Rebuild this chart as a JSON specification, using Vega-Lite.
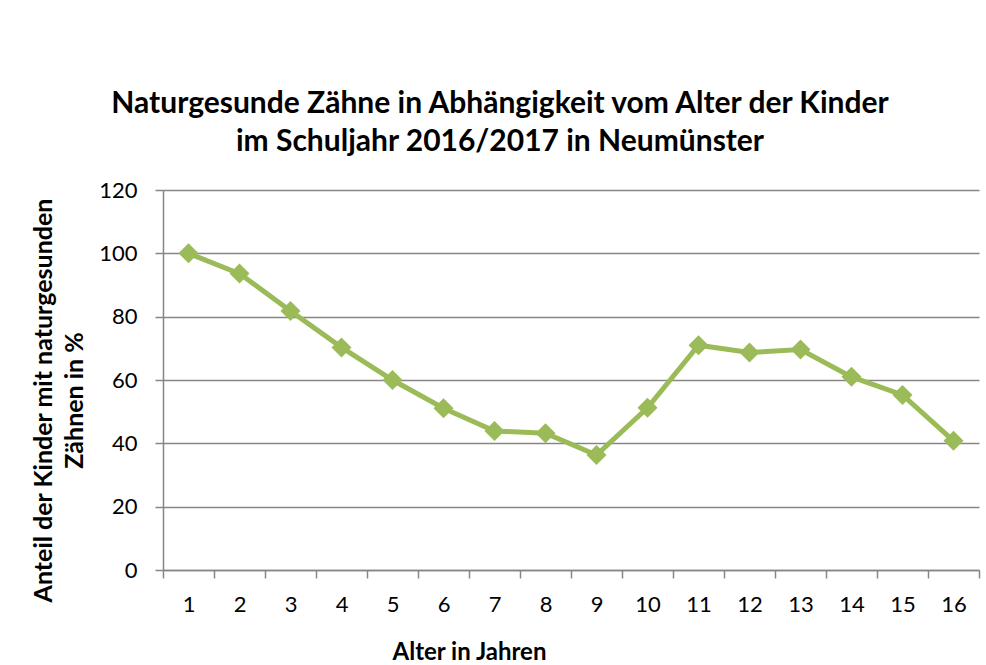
{
  "$schema": "https://vega.github.io/schema/vega-lite/v6.json",
  "width": 816,
  "height": 380,
  "autosize": {"type": "none"},
  "padding": {"left": 163, "top": 190, "right": 7, "bottom": 95},
  "background": "white",
  "title": {
    "text": ["Naturgesunde Zähne in Abhängigkeit vom Alter der Kinder", "im Schuljahr 2016/2017 in Neumünster"],
    "font": "Lato",
    "fontSize": 30,
    "fontWeight": "bold",
    "color": "black",
    "anchor": "middle",
    "dx": -71,
    "lineHeight": 38,
    "offset": 22
  },
  "data": {
    "values": [
      {"alter": 1, "anteil": 100},
      {"alter": 2, "anteil": 93.6},
      {"alter": 3, "anteil": 81.8},
      {"alter": 4, "anteil": 70.3},
      {"alter": 5, "anteil": 60},
      {"alter": 6, "anteil": 51.1},
      {"alter": 7, "anteil": 43.9},
      {"alter": 8, "anteil": 43.2},
      {"alter": 9, "anteil": 36.3},
      {"alter": 10, "anteil": 51.2},
      {"alter": 11, "anteil": 71},
      {"alter": 12, "anteil": 68.7},
      {"alter": 13, "anteil": 69.6},
      {"alter": 14, "anteil": 61},
      {"alter": 15, "anteil": 55.3},
      {"alter": 16, "anteil": 40.8}
    ]
  },
  "config": {"view": {"stroke": null}, "font": "Lato"},
  "encoding": {
    "x": {
      "field": "alter",
      "type": "ordinal",
      "sort": null,
      "scale": {"type": "band", "paddingInner": 0, "paddingOuter": 0},
      "axis": {
        "title": "Alter in Jahren",
        "titleFont": "Lato",
        "titleFontSize": 24,
        "titleFontWeight": "bold",
        "titleColor": "black",
        "titleX": 306,
        "titleY": 89,
        "titleAlign": "center",
        "titleBaseline": "alphabetic",
        "labelAngle": 0,
        "labelFont": "Lato",
        "labelFontSize": 22,
        "labelColor": "black",
        "labelPadding": 16,
        "tickBand": "extent",
        "tickSize": 8,
        "tickColor": "#868686",
        "tickWidth": 1.5,
        "domainColor": "#868686",
        "domainWidth": 1.5,
        "grid": false
      }
    },
    "y": {
      "field": "anteil",
      "type": "quantitative",
      "scale": {"domain": [0, 120], "nice": false},
      "axis": {
        "title": ["Anteil der Kinder mit naturgesunden", "Zähnen in %"],
        "titleFont": "Lato",
        "titleFontSize": 25,
        "titleFontWeight": "bold",
        "titleColor": "black",
        "titleX": -120,
        "titleY": 210,
        "titleAngle": -90,
        "titleAlign": "center",
        "titleBaseline": "middle",
        "titleLineHeight": 31,
        "values": [0, 20, 40, 60, 80, 100, 120],
        "labelFont": "Lato",
        "labelFontSize": 22,
        "labelColor": "black",
        "labelPadding": 18,
        "tickSize": 8,
        "tickColor": "#868686",
        "tickWidth": 1.5,
        "domainColor": "#868686",
        "domainWidth": 1.5,
        "grid": true,
        "gridColor": "#868686",
        "gridWidth": 1.5
      }
    }
  },
  "layer": [
    {"mark": {"type": "line", "color": "#9BBB59", "strokeWidth": 5}},
    {"mark": {"type": "point", "shape": "diamond", "filled": true, "size": 400, "color": "#9BBB59", "opacity": 1}}
  ]
}
